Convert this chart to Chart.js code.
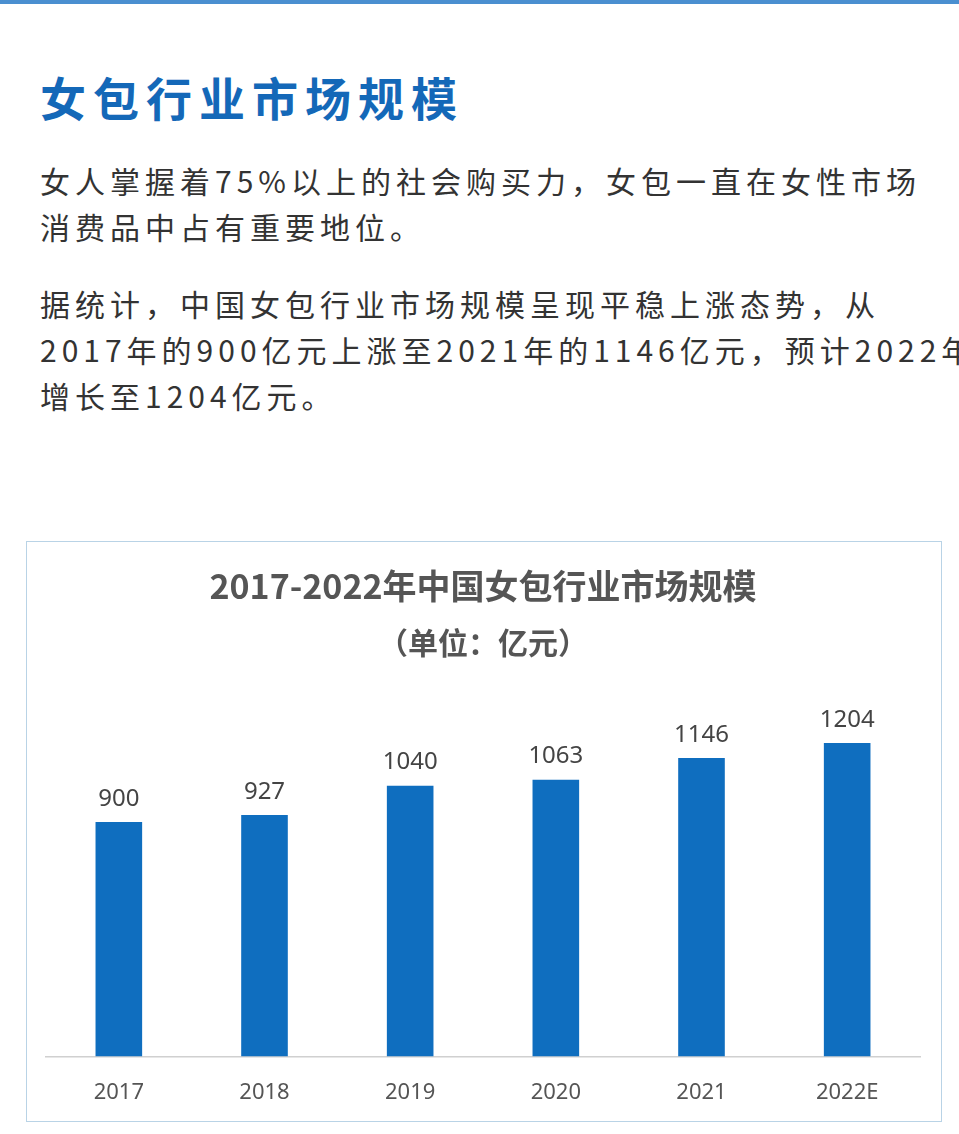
<!DOCTYPE html>
<html><head><meta charset="utf-8">
<script src="https://cdn.jsdelivr.net/npm/chart.js@4/dist/chart.umd.min.js"></script>
<style>
body{margin:0;width:959px;height:1134px;background:#fff;font-family:"Noto Sans CJK SC","Noto Sans",sans-serif;position:relative;overflow:hidden}
#topline{position:absolute;left:0;top:0;width:959px;height:4px;background:#4a8fd0}
h1{position:absolute;left:40px;top:66px;margin:0;font-size:46px;line-height:60px;letter-spacing:7px;color:#1468b8;font-weight:700}
.p{position:absolute;left:40px;margin:0;font-size:30px;line-height:46px;letter-spacing:5px;color:#333;white-space:nowrap}
#box{position:absolute;left:26px;top:541px;width:914px;height:579px;border:1px solid #b9d3e6}
canvas{display:block}
</style></head><body>
<div id="topline"></div>
<h1>女包行业市场规模</h1>
<p class="p" style="top:157px">女人掌握着75%以上的社会购买力，女包一直在女性市场<br>消费品中占有重要地位。</p>
<p class="p" style="top:280px">据统计，中国女包行业市场规模呈现平稳上涨态势，从<br>2017年的900亿元上涨至2021年的1146亿元，预计2022年<br>增长至1204亿元。</p>
<div id="box"><canvas id="c" width="914" height="579"></canvas></div>
<script>
const categories=["2017","2018","2019","2020","2021","2022E"];
const values=[900,927,1040,1063,1146,1204];
const labelPlugin={id:"lbl",afterDatasetsDraw(ch){const ctx=ch.ctx;ctx.save();ctx.font="24px 'Noto Sans','Noto Sans CJK SC',sans-serif";ctx.fillStyle="#444";ctx.textAlign="center";ctx.textBaseline="bottom";
ch.getDatasetMeta(0).data.forEach((b,i)=>ctx.fillText(values[i],b.x,b.y-11));ctx.restore();}};
new Chart(document.getElementById("c"),{type:"bar",
data:{labels:categories,datasets:[{data:values,backgroundColor:"#0f6ebf",barPercentage:0.64,categoryPercentage:0.5}]},
options:{responsive:false,animation:false,
layout:{padding:{left:19,right:21,top:0,bottom:0}},
plugins:{legend:{display:false},tooltip:{enabled:false},
title:{display:true,text:"2017-2022年中国女包行业市场规模",color:"#555",font:{size:34,weight:"bold",family:"'Noto Sans CJK SC'"},padding:{top:24,bottom:18}},
subtitle:{display:true,text:"（单位：亿元）",color:"#555",font:{size:30,weight:"bold",family:"'Noto Sans CJK SC'"},padding:{bottom:18}}},
scales:{y:{display:false,min:0,max:1450},
x:{grid:{display:false},border:{color:"#d0d0d0",width:1.5},ticks:{color:"#555",font:{size:22,family:"'Noto Sans'"},padding:15}}}},
plugins:[labelPlugin]});
</script></body></html>
